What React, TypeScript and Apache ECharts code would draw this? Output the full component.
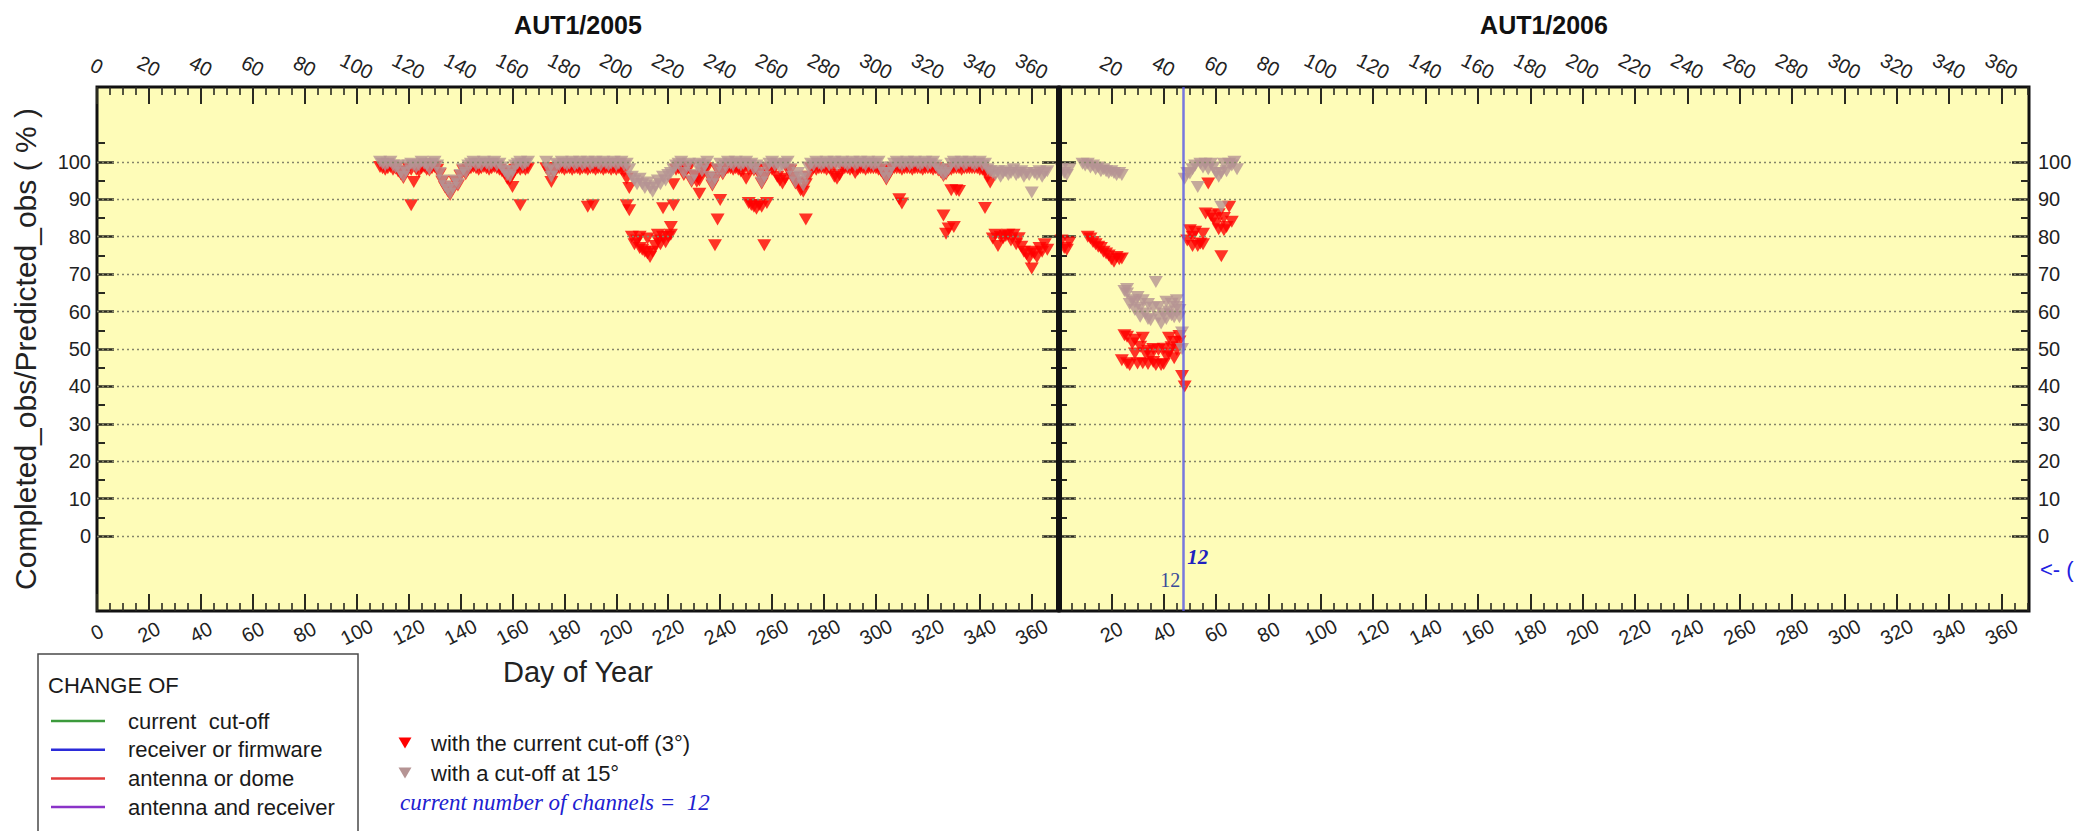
import React, { useEffect, useRef } from 'react';
import * as echarts from 'echarts';

// ---- data -------------------------------------------------------------
// Daily ratio of completed to predicted observations (%), station AUT1.
const FIRST_DAY_2005 = 109; // first day of year with data in 2005
const FIRST_DAY_2006 = 1;

// cut-off at 15 degrees, one value per day from day 109 of 2005
const gray2005: (number | null)[] = [
  100, 99.5, 99, 99.5, 100, 99, 98.5, 99, 97, 96,
  97.5, 99, 99.5, 99, 98.5, 99, 100, 99.5, 99, 98,
  99.5, 100, 99, 97, 95, 93.5, 92.5, 91.5, 93, 95,
  94, 96.5, 98, 97, 99, 99.5, 100, 99, 99.5, 99,
  100, 99.5, 99, 99.5, 100, 99, 99.5, 98.5, 97.5, 96.5,
  96, 97.5, 99, 99.5, 100, 99, 99.5, 100, null, null,
  null, null, null, null, 100, 98, 96, 97.5, 99.5, 99,
  100, 99.5, 99, 99.5, 100, 99, 99.5, 100, 99, 99.5,
  100, 99, 99.5, 100, 99.5, 99, 100, 99.5, 99, 99.5,
  100, 99, 99.5, 100, 99, 99.5, 98, 96, 95, 94,
  95.5, 94, 93, 94.5, 93, 92, 93.5, 95, 94, 96,
  95, 96.5, 97, 98, 99, 99.5, 100, 97, 99, 99.5,
  95, 96.5, 99, 99.5, 97.5, 99, 100, 96, 94, 95.5,
  98, 99.5, 97, 99, 100, 99.5, 99, 100, 99.5, 99,
  99.5, 100, 99, 99.5, 98, 99, 97, 94.5, 96, 98.5,
  99.5, 100, 99, 99.5, 98.5, 99, 99.5, 100, 98, 96,
  94.5, 97, 95.5, 93.7, 96, 98.5, 99.5, 99, 100, 99.5,
  99, 99.5, 100, 99, 99.5, 100, 99, 99.5, 100, 99.5,
  99, 99.5, 100, 99, 99.5, 100, 99.5, 99, 100, 99.5,
  99, 99.5, 100, 98.5, 97, 95.6, 97, 98.5, 99.5, 100,
  99.5, 99, 99.5, 100, 99, 99.5, 100, 99.5, 99, 99.5,
  100, 99, 99.5, 100, 99, 98, 97.5, 96.5, 97, 98,
  99.5, 100, 99, 99.5, 100, 99, 99.5, 100, 99.5, 99,
  99.5, 100, 99, 99.5, 98, 97.5, 97, 96.5, 97.5, 96,
  97, 97.5, 96.5, 97, 98, 96.5, 97, 97.5, 96, 97,
  96.5, 91.8, 97, 96.5, 97.5, 96, 97, 97.5,
];

// current cut-off (3 degrees), one value per day from day 109 of 2005
const red2005: (number | null)[] = [
  98.6, 98.3, 97.9, 98.3, 98.6, 97.9, 98.2, 97.4, 96.7, 95.7,
  97.2, 98.2, 97.9, 94.6, 97.9, 97.4, 98.3, 98.6, 97.9, 97.7,
  98.3, 98.6, 97.9, 96.7, 94.7, 93.2, 92.2, 91.2, 92.7, 94.7,
  93.7, 96.2, 97.7, 96.7, 97.9, 98.3, 98.6, 98.3, 97.9, 98.3,
  98.6, 98.3, 97.9, 98.3, 98.6, 98.3, 97.9, 97.4, 96.9, 95.5,
  95.2, 96.5, 97.9, 98.3, 97.9, 98.3, 97.9, 98.2, null, null,
  null, null, null, null, 98.3, 97.2, 94.6, 96.8, 98.3, 98.3,
  98.3, 97.9, 98.3, 98.3, 97.9, 98.3, 98.3, 97.9, 98.3, 98.3,
  97.9, 98.3, 98.3, 97.9, 98.3, 98.3, 97.9, 98.3, 98.3, 97.9,
  98.3, 97.9, 98.3, 97.9, 97.4, 95.5, 93, 80, 78, 79,
  77, 76.5, 76, 75.5, 74.6, 76, 77.5, 79, 78, 80,
  78.5, 80, 80.5, 94, 97.9, 98.3, 98.6, 96.5, 97.9, 98.3,
  94.7, 96.2, 96, 95, 97.2, 97.9, 98.3, 95.7, 93.7, 95.2,
  97.7, 97.9, 96.7, 97.9, 98.3, 98.3, 97.9, 98.3, 97.9, 97.4,
  97.9, 95.5, 97.9, 98.3, 97.7, 97.9, 96.7, 94.2, 95.7, 97.9,
  98.3, 97.9, 98.3, 96, 95, 94.2, 95.5, 97.9, 97.7, 95.7,
  94.2, 94.5, 92.4, 92, 94, 96, 98.3, 98.3, 97.9, 98.3,
  98.3, 98.3, 97.9, 98.3, 97.9, 96, 95.5, 96.5, 98.3, 98.3,
  98.3, 97.9, 98.3, 97, 97.9, 98.3, 98.3, 97.9, 98.3, 98.3,
  98.3, 98.3, 97.9, 97.5, 96.7, 95.3, 96.7, 97.9, 98.3, 98.3,
  98.3, 97.9, 98.3, 98.3, 98.3, 97.9, 98.3, 98.3, 98.3, 97.9,
  98.3, 98.3, 98.3, 97.9, 98.3, 97.7, 97.2, 96.2, 96.7, 97.7,
  97.9, 98.3, 98.3, 98.3, 97.9, 98.3, 98.3, 98.3, 98.3, 98.3,
  98.3, 97.9, 97.9, 97.4, 96, 94.5, 79.5, 80.5, 77.5, 80,
  79.6, 80.2, 80.5, 79, 80.5, 78, 79.6, 77.3, 76, 75.3,
  74.2, 76, 75.5, 74.5, 77, 76, 78, 76.5,
];

// further sessions at the current cut-off in 2005: [day, %]
const redExtra2005: [number, number][] = [
  [121, 88.4], [160, 93.3], [163, 88.4], [189, 88], [191, 88.4], [204, 88.4],
  [205, 87.1], [209, 80], [212, 79.5], [216, 80.5], [218, 87.6], [221, 82.6],
  [222, 88.4], [231, 94.7], [232, 91.5], [238, 77.7], [239, 84.6], [240, 89.8],
  [251, 89], [252, 88.5], [253, 88], [254, 87.5], [255, 88.5], [256, 88],
  [257, 77.7], [258, 89], [273, 84.6], [309, 90], [310, 88.9], [326, 85.7],
  [327, 80.8], [328, 82.2], [329, 92.4], [330, 82.6], [331, 92.4], [332, 92.2],
  [342, 87.7], [360, 71.5],
];

// cut-off at 15 degrees, one value per day from day 1 of 2006
const gray2006: (number | null)[] = [
  98, 97, 96.5, 98, null, null, null, null, 99.5, 99,
  99.5, 98.5, 99, 98, 98.5, 97.5, 98, 97.5, 97, 97.5,
  97, 96.5, 97, 96.5, 65.5, 64.8, 62, 63, 60.4, 63.9,
  58.6, 63, 59.5, 62, 57.7, 61, 67.9, 61.2, 56.8, 59.5,
  62.6, 60, 62.1, 58.5, 61.2, 60.4, 54.4, 95.5, 97, 96.9,
  98, 99, 93.3, 99.5, 98.5, 99.5, 98, 99.5, 98.5, 97,
  96, 97, 99.5, 97.5, 99.5, 99, 100, 98,
];

const grayExtra2006: [number, number][] = [
  [26, 66], [29, 62.5], [31, 61], [34, 58], [38, 58.5], [41, 58],
  [43, 59], [45, 63], [46, 58.5], [47, 50], [62, 88],
];

// current cut-off (3 degrees), one value per day from day 1 of 2006
const red2006: (number | null)[] = [
  79, 77, 76.5, 78.5, null, null, null, null, null, null,
  80, 79.5, 78.6, 78, 77.3, 77, 76, 75.5, 75, 74,
  73.3, 74.6, 74, 74.2, 53.7, 46.2, 45.7, 51.5, 48.8, 46.1,
  50.6, 46.2, 48.8, 49.5, 47.9, 50, 45.7, 49.7, 45.7, 50.1,
  48, 48.8, 50.5, 51.9, 49.7, 52, 42.8, 40, 79, 81.7,
  80, 81.3, 77.5, 78.2, 80.8, 86.2, 94.2, 85.7, 84.8, 83.5,
  82, 74.8, 81.7, 82.6, 88, 84,
];

const redExtra2006: [number, number][] = [
  [24, 47], [26, 53.3], [29, 52.5], [32, 53], [34, 46], [36, 46.5],
  [40, 46], [42, 53], [44, 47.5], [46, 53.5], [51, 77.5], [55, 78],
  [61, 86], [63, 85],
];

// receiver channel count changed on this day of 2006
const CHANNEL_CHANGE_DAY_2006 = 47.5;
const CHANNELS_BEFORE = '12';
const CHANNELS_AFTER = '12';

// axes
const DAY_TICKS = [0, 20, 40, 60, 80, 100, 120, 140, 160, 180, 200, 220, 240, 260, 280, 300, 320, 340, 360];
const PCT_TICKS = [0, 10, 20, 30, 40, 50, 60, 70, 80, 90, 100];
const PCT_MINOR_TICKS = [5, 15, 25, 35, 45, 55, 65, 75, 85, 95, 105];
const DAY_MAX = 370.5;

// legend texts
const CHANGE_TYPES = ['current  cut-off', 'receiver or firmware', 'antenna or dome', 'antenna and receiver'];
const CHANGE_COLORS = ['#3c9a3c', '#2b2bd9', '#e23b3b', '#8a33c8'];

// ---- styling ----------------------------------------------------------
const SANS = "'Liberation Sans', Arial, Helvetica, sans-serif";
const SERIF = "'Liberation Serif', 'Times New Roman', serif";
const PLOT_BG = '#fefcb8';
const RED = '#ff0000';
const GRAY = '#b59494';
const TICK = '#2a2a20';
const GRID_DOT = '#85856a';

const TOP = 87;
const HEIGHT = 524;
const LEFT_A = 97;
const WIDTH_A = 962;
const LEFT_B = 1059;
const WIDTH_B = 970;

const dayMinorTicks = () => {
  const out: number[] = [];
  for (let d = 5; d <= 370; d += 5) if (d % 20 !== 0) out.push(d);
  return out;
};

const daily = (first: number, values: (number | null)[]) =>
  values.flatMap((v, i) => (v == null ? [] : [[first + i, v]]));

function dayAxis(gridIndex: number, position: 'top' | 'bottom', major: boolean, labelDays: number[]) {
  return {
    type: 'value',
    gridIndex,
    position,
    min: 0,
    max: DAY_MAX,
    interval: 20,
    axisLine: { show: false, onZero: false },
    splitLine: { show: false },
    axisTick: {
      show: true,
      inside: true,
      length: major ? 17 : 8,
      customValues: major ? DAY_TICKS : dayMinorTicks(),
      lineStyle: { color: TICK, width: major ? 2 : 1.6 },
    },
    axisLabel: major
      ? {
          show: true,
          customValues: labelDays,
          rotate: 27,
          margin: 21,
          align: 'center',
          verticalAlign: 'middle',
          fontSize: 20,
          fontFamily: SANS,
          color: '#222',
        }
      : { show: false },
  };
}

function pctAxis(gridIndex: number, position: 'left' | 'right', major: boolean, labels: boolean) {
  return {
    type: 'value',
    gridIndex,
    position,
    min: -20,
    max: 120,
    interval: 10,
    axisLine: { show: false, onZero: false },
    splitLine: { show: false },
    axisTick: {
      show: true,
      inside: true,
      length: major ? 17 : 8,
      customValues: major ? PCT_TICKS : PCT_MINOR_TICKS,
      lineStyle: { color: TICK, width: major ? 2.5 : 2 },
    },
    axisLabel: labels
      ? {
          show: true,
          customValues: PCT_TICKS,
          margin: position === 'left' ? 6 : 9,
          fontSize: 20,
          fontFamily: SANS,
          color: '#222',
        }
      : { show: false },
  };
}

const marker = {
  type: 'scatter',
  symbol: 'triangle',
  symbolRotate: 180,
  symbolSize: [14, 12],
  clip: true,
  silent: true,
};

function gridLines(xAxisIndex: number, yAxisIndex: number) {
  return {
    type: 'line',
    xAxisIndex,
    yAxisIndex,
    data: [],
    z: 4,
    markLine: {
      silent: true,
      symbol: ['none', 'none'],
      label: { show: false },
      lineStyle: { type: [2, 3], color: GRID_DOT, width: 1.4 },
      data: PCT_TICKS.map((v) => ({ yAxis: v })),
    },
  };
}

export default function App() {
  const ref = useRef<HTMLDivElement>(null);

  useEffect(() => {
    document.body.style.margin = '0';
    document.body.style.overflow = 'hidden';
    if (!ref.current) return;
    const chart = echarts.init(ref.current, undefined, { renderer: 'svg' });

    const xAxis = [
      dayAxis(0, 'bottom', true, DAY_TICKS),
      dayAxis(0, 'top', true, DAY_TICKS),
      dayAxis(0, 'bottom', false, []),
      dayAxis(0, 'top', false, []),
      dayAxis(1, 'bottom', true, DAY_TICKS.slice(1)),
      dayAxis(1, 'top', true, DAY_TICKS.slice(1)),
      dayAxis(1, 'bottom', false, []),
      dayAxis(1, 'top', false, []),
    ];
    const yAxis = [
      pctAxis(0, 'left', true, true),
      pctAxis(0, 'left', false, false),
      pctAxis(0, 'right', true, false),
      pctAxis(0, 'right', false, false),
      pctAxis(1, 'left', true, false),
      pctAxis(1, 'left', false, false),
      pctAxis(1, 'right', true, true),
      pctAxis(1, 'right', false, false),
    ];

    const gridStyle = {
      show: true,
      backgroundColor: PLOT_BG,
      borderColor: '#111',
      borderWidth: 3,
      top: TOP,
      height: HEIGHT,
      outerBoundsMode: 'none',
      containLabel: false,
    };

    chart.setOption({
      animation: false,
      grid: [
        { ...gridStyle, left: LEFT_A, width: WIDTH_A },
        { ...gridStyle, left: LEFT_B, width: WIDTH_B },
      ],
      xAxis,
      yAxis,
      series: [
        {
          ...marker,
          name: 'with the current cut-off (3°)',
          xAxisIndex: 0,
          yAxisIndex: 0,
          z: 2,
          itemStyle: { color: RED },
          data: [...daily(FIRST_DAY_2005, red2005), ...redExtra2005],
        },
        {
          ...marker,
          name: 'with a cut-off at 15°',
          xAxisIndex: 0,
          yAxisIndex: 0,
          z: 3,
          itemStyle: { color: GRAY },
          data: daily(FIRST_DAY_2005, gray2005),
        },
        {
          ...marker,
          name: 'with the current cut-off (3°)',
          xAxisIndex: 4,
          yAxisIndex: 4,
          z: 2,
          itemStyle: { color: RED },
          data: [...daily(FIRST_DAY_2006, red2006), ...redExtra2006],
        },
        {
          ...marker,
          name: 'with a cut-off at 15°',
          xAxisIndex: 4,
          yAxisIndex: 4,
          z: 3,
          itemStyle: { color: GRAY },
          data: [...daily(FIRST_DAY_2006, gray2006), ...grayExtra2006],
        },
        gridLines(0, 0),
        gridLines(4, 4),
        {
          type: 'line',
          xAxisIndex: 4,
          yAxisIndex: 4,
          data: [],
          z: 6,
          markLine: {
            silent: true,
            symbol: ['none', 'none'],
            label: { show: false },
            lineStyle: { type: 'solid', color: '#5656e6', width: 2.5, opacity: 0.8 },
            data: [{ xAxis: CHANNEL_CHANGE_DAY_2006 }],
          },
        },
      ],
    });

    const at = (day: number, pct: number) =>
      chart.convertToPixel({ gridIndex: 1 }, [day, pct]) as unknown as number[];
    const [chX, chYAfter] = at(CHANNEL_CHANGE_DAY_2006, -5.6);
    const [, chYBefore] = at(CHANNEL_CHANGE_DAY_2006, -11.8);
    const [, arrowY] = at(DAY_MAX, -9);

    const midA = LEFT_A + WIDTH_A / 2;
    const midB = LEFT_B + WIDTH_B / 2;
    const text = (x: number, y: number, t: string, font: string, fill: string, align = 'left', extra: any = {}) => ({
      type: 'text',
      x,
      y,
      z: 20,
      silent: true,
      ...extra,
      style: { text: t, font, fill, align, verticalAlign: 'middle' },
    });

    const legendItems = CHANGE_TYPES.flatMap((label, i) => {
      const y = 721 + i * 28.7;
      return [
        {
          type: 'line',
          z: 20,
          silent: true,
          shape: { x1: 51, y1: y, x2: 105, y2: y },
          style: { stroke: CHANGE_COLORS[i], lineWidth: 2.5 },
        },
        text(128, y, label, `22px ${SANS}`, '#1a1a1a'),
      ];
    });

    const tri = (cx: number, cy: number, fill: string) => ({
      type: 'polygon',
      z: 20,
      silent: true,
      shape: { points: [[cx - 6.5, cy - 5.5], [cx + 6.5, cy - 5.5], [cx, cy + 5.5]] },
      style: { fill },
    });

    chart.setOption({
      graphic: [
        text(midA, 25, 'AUT1/2005', `bold 25px ${SANS}`, '#111', 'center'),
        text(midB, 25, 'AUT1/2006', `bold 25px ${SANS}`, '#111', 'center'),
        text(25, TOP + 262, 'Completed_obs/Predicted_obs ( % )', `30px ${SANS}`, '#222', 'center', {
          rotation: Math.PI / 2,
        }),
        text(midA, 672, 'Day of Year', `29px ${SANS}`, '#222', 'center'),
        {
          type: 'line',
          z: 30,
          silent: true,
          shape: { x1: LEFT_B, y1: TOP, x2: LEFT_B, y2: TOP + HEIGHT },
          style: { stroke: '#111', lineWidth: 6 },
        },
        text(chX + 4, chYAfter, CHANNELS_AFTER, `italic bold 21px ${SERIF}`, '#2020c0'),
        text(chX - 3, chYBefore, CHANNELS_BEFORE, `20px ${SERIF}`, '#3a4a9a', 'right'),
        text(2040, arrowY, '<- (', `22px ${SANS}`, '#2020e0'),
        {
          type: 'rect',
          z: 15,
          silent: true,
          shape: { x: 38, y: 654, width: 320, height: 200 },
          style: { fill: '#ffffff', stroke: '#4a4a4a', lineWidth: 1.5 },
        },
        text(48, 685, 'CHANGE OF', `22px ${SANS}`, '#1a1a1a'),
        ...legendItems,
        tri(405, 743, RED),
        text(431, 743, 'with the current cut-off (3°)', `22px ${SANS}`, '#1a1a1a'),
        tri(405, 773, GRAY),
        text(431, 773, 'with a cut-off at 15°', `22px ${SANS}`, '#1a1a1a'),
        text(400, 802, 'current number of channels =  12', `italic 23px ${SERIF}`, '#2020d0'),
      ],
    });

    return () => chart.dispose();
  }, []);

  return <div ref={ref} style={{ width: 2075, height: 831 }} />;
}
